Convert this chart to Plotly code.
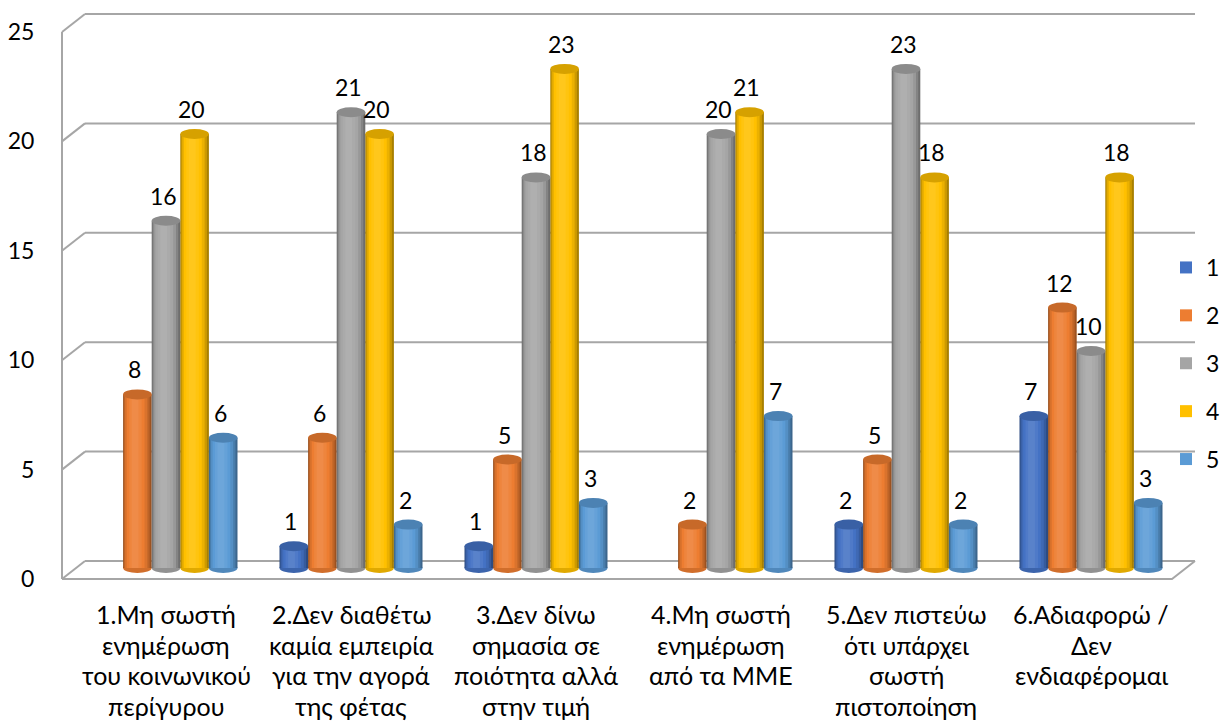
import plotly.graph_objects as go

# ---- data ----
categories = [
    "1.Μη σωστή\nενημέρωση\nτου κοινωνικού\nπερίγυρου",
    "2.Δεν διαθέτω\nκαμία εμπειρία\nγια την αγορά\nτης φέτας",
    "3.Δεν δίνω\nσημασία σε\nποιότητα αλλά\nστην τιμή",
    "4.Μη σωστή\nενημέρωση\nαπό τα ΜΜΕ",
    "5.Δεν πιστεύω\nότι υπάρχει\nσωστή\nπιστοποίηση",
    "6.Αδιαφορώ /\nΔεν\nενδιαφέρομαι",
]
series_names = ["1", "2", "3", "4", "5"]
s1 = [None, 1, 1, None, 2, 7]
s2 = [8, 6, 5, 2, 5, 12]
s3 = [16, 21, 18, 20, 23, 10]
s4 = [20, 20, 23, 21, 18, 18]
s5 = [6, 2, 3, 7, 2, 3]
series_values = [s1, s2, s3, s4, s5]
colors = ["#4472C4", "#ED7D31", "#A5A5A5", "#FFC000", "#5B9BD5"]
y_ticks = [0, 5, 10, 15, 20, 25]

# ---- geometry of the pseudo-3D box (pixels) ----
W, H = 1221, 722
L, R, T, B = 62, 1195, 14, 580
DEPTH = 23                   # horizontal shift from front plane to back wall
GROUP_PX = 185               # distance between category centres
FIRST_GROUP_PX = 166
BASE_PX = 568                # value 0 in the bar plane
UNIT_PX = 21.7               # pixels per unit in the bar plane
FRONT0, FRONT_UNIT = 579, 21.88
BACK0, BACK_UNIT = 561, 21.88
FONT = "Lato, 'Noto Sans', sans-serif"
GRID = "#A6A6A6"
LABEL_SIZE = 23
CAT_SIZE = 25

def px_x(x):
    return (x - L) / (R - L)

def px_y(y):
    return (B - y) / (B - T)

x_lo = -(FIRST_GROUP_PX - L) / GROUP_PX
x_hi = x_lo + (R - L) / GROUP_PX
y_lo = -(B - BASE_PX) / UNIT_PX
y_hi = (BASE_PX - T) / UNIT_PX
y2_lo = -(B - FRONT0) / FRONT_UNIT
y2_hi = (FRONT0 - T) / FRONT_UNIT


def shade(hex_color, amt):
    r, g, b = (int(hex_color[i:i + 2], 16) for i in (1, 3, 5))
    if amt < 0:
        f = 1 + amt
        r, g, b = r * f, g * f, b * f
    else:
        r, g, b = r + (255 - r) * amt, g + (255 - g) * amt, b + (255 - b) * amt
    return "rgb(%d,%d,%d)" % (round(r), round(g), round(b))


fig = go.Figure()

bar_w = 28.6 / GROUP_PX
# cylinder shading: (width fraction, centre shift in bar widths, shade)
layers = [(1.00, 0.00, -0.34), (0.90, -0.02, -0.20), (0.78, -0.04, -0.08),
          (0.62, -0.06, 0.0), (0.44, -0.07, 0.06), (0.24, -0.08, 0.11)]
xs = list(range(len(categories)))
shapes = []

# frame: back wall grid, side wall diagonals, floor
for v in y_ticks:
    yb = BACK0 - v * BACK_UNIT
    yf = FRONT0 - v * FRONT_UNIT
    shapes.append(dict(type="line", xref="paper", yref="paper", layer="below",
                       x0=px_x(L + DEPTH), x1=px_x(R), y0=px_y(yb), y1=px_y(yb),
                       line=dict(color=GRID, width=2)))
    shapes.append(dict(type="line", xref="paper", yref="paper", layer="below",
                       x0=px_x(L), x1=px_x(L + DEPTH), y0=px_y(yf), y1=px_y(yb),
                       line=dict(color=GRID, width=2)))
shapes.append(dict(type="line", xref="paper", yref="paper", layer="below",
                   x0=px_x(L), x1=px_x(L), y0=px_y(FRONT0),
                   y1=px_y(FRONT0 - y_ticks[-1] * FRONT_UNIT),
                   line=dict(color=GRID, width=2)))
shapes.append(dict(type="path", xref="paper", yref="paper", layer="below",
                   path="M %f %f L %f %f L %f %f" % (
                       px_x(L), px_y(FRONT0), px_x(R - DEPTH), px_y(FRONT0),
                       px_x(R), px_y(BACK0)),
                   line=dict(color=GRID, width=2)))

cap_h = 5.0 / UNIT_PX
annotations = []
for i, (name, vals, col) in enumerate(zip(series_names, series_values, colors)):
    c = (i - 2) * bar_w
    for frac, shift, amt in layers:
        fig.add_trace(go.Bar(
            x=xs, y=vals, name=name, legendgroup=name,
            showlegend=(amt == 0.0),
            width=bar_w * frac, offset=c - bar_w * frac / 2 + shift * bar_w,
            marker=dict(color=shade(col, amt), line=dict(width=0)),
            hoverinfo="skip" if amt != 0.0 else "y+name",
        ))
    for k, v in zip(xs, vals):
        if v is None:
            continue
        # rounded bottom and top face of the cylinder
        shapes.append(dict(type="circle", xref="x", yref="y", layer="below",
                           x0=k + c - bar_w / 2, x1=k + c + bar_w / 2,
                           y0=-cap_h, y1=cap_h,
                           fillcolor=shade(col, -0.12), line=dict(width=0)))
        shapes.append(dict(type="circle", xref="x", yref="y", layer="above",
                           x0=k + c - bar_w / 2, x1=k + c + bar_w / 2,
                           y0=v - cap_h, y1=v + cap_h,
                           fillcolor=shade(col, -0.16), line=dict(width=0)))
        annotations.append(dict(x=k + c, y=v, xref="x", yref="y", text=str(v),
                                showarrow=False, yshift=25, xshift=-3,
                                yanchor="middle",
                                font=dict(size=LABEL_SIZE, color="black",
                                          family=FONT)))

# empty trace so the front value axis (y2) gets drawn
fig.add_trace(go.Scatter(x=[None], y=[None], yaxis="y2", showlegend=False,
                         hoverinfo="skip", mode="markers"))

# category labels below the floor
LINE0, LINE_STEP = 614, 30.5
for k, cat in zip(xs, categories):
    for j, line in enumerate(cat.split("\n")):
        annotations.append(dict(x=k, y=px_y(LINE0 + j * LINE_STEP), xref="x",
                                yref="paper", text=line, showarrow=False,
                                yanchor="middle", borderpad=0,
                                font=dict(size=CAT_SIZE, color="black",
                                          family=FONT)))

fig.update_layout(
    width=W, height=H,
    margin=dict(l=L, r=W - R, t=T, b=H - B, pad=0, autoexpand=False),
    paper_bgcolor="white", plot_bgcolor="rgba(0,0,0,0)",
    barmode="overlay",
    font=dict(family=FONT, size=LABEL_SIZE, color="black"),
    xaxis=dict(range=[x_lo, x_hi], showgrid=False, zeroline=False,
               showticklabels=False, showline=False, ticks=""),
    yaxis=dict(range=[y_lo, y_hi], showgrid=False, zeroline=False,
               showticklabels=False, showline=False, ticks=""),
    yaxis2=dict(range=[y2_lo, y2_hi], overlaying="y", side="left",
                tickvals=y_ticks, showgrid=False, zeroline=False,
                showline=False, ticks="outside", ticklen=22,
                tickcolor="rgba(0,0,0,0)",
                tickfont=dict(size=LABEL_SIZE, color="black", family=FONT)),
    legend=dict(x=px_x(1166), y=px_y(246), xanchor="left", yanchor="top",
                bgcolor="rgba(0,0,0,0)", tracegroupgap=15,
                font=dict(size=LABEL_SIZE, color="black", family=FONT)),
    shapes=shapes,
    annotations=annotations,
)

fig.write_html("out.html")
